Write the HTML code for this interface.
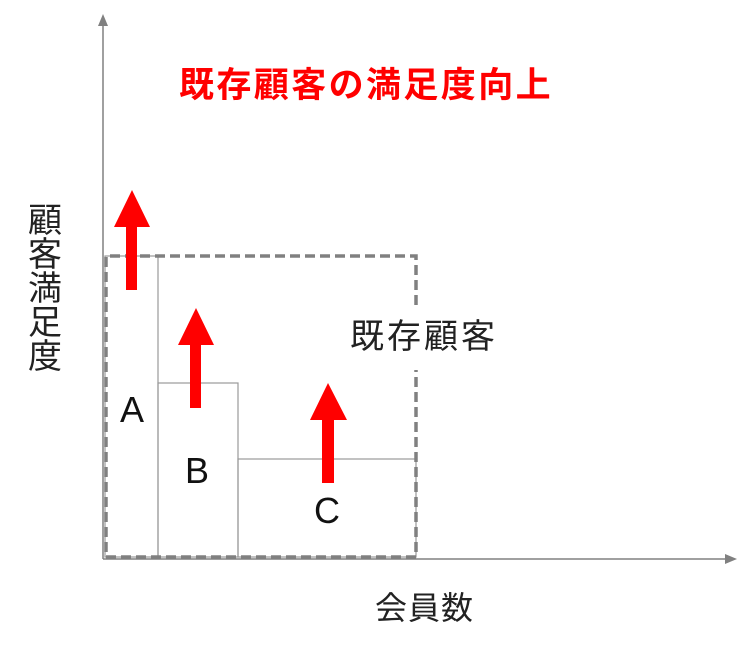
<!DOCTYPE html>
<html><head><meta charset="utf-8"><style>
html,body{margin:0;padding:0;background:#fff;}
svg{display:block;}
text{font-family:"Liberation Sans","Noto Sans CJK JP",sans-serif;}
</style></head><body>
<svg width="748" height="650" viewBox="0 0 748 650" xmlns="http://www.w3.org/2000/svg">
<line x1="103" y1="22" x2="103" y2="559" stroke="#808080" stroke-width="1.5"/>
<polygon points="103,14 98,26 108,26" fill="#808080"/>
<line x1="103" y1="559" x2="728" y2="559" stroke="#808080" stroke-width="1.5"/>
<polygon points="737,559 725,554 725,564" fill="#808080"/>
<rect x="105" y="256" width="53" height="301" fill="none" stroke="#999" stroke-width="1.2"/>
<rect x="158" y="383" width="80" height="174" fill="none" stroke="#999" stroke-width="1.2"/>
<rect x="238" y="459" width="178" height="98" fill="none" stroke="#999" stroke-width="1.2"/>
<path d="M416,305 L416,256 L106,256 L106,557 L416,557 L416,370" fill="none" stroke="#808080" stroke-width="3.5" stroke-dasharray="10,5"/>
<polygon points="132,190 150,227 137,227 137,290 126,290 126,227 114,227" fill="#ff0000"/>
<polygon points="196,308 214,345 201,345 201,408 190,408 190,345 178,345" fill="#ff0000"/>
<polygon points="328,383 347,420 334,420 334,483 322,483 322,420 310,420" fill="#ff0000"/>
<text x="179" y="97" font-size="35" font-weight="bold" fill="#ff0000" letter-spacing="2.4">既存顧客の満足度向上</text>
<text x="350" y="348" font-size="34" fill="#222" letter-spacing="3">既存顧客</text>
<text x="375" y="619" font-size="32" fill="#222" letter-spacing="1">会員数</text>
<g font-size="34" fill="#222">
<text x="28" y="232">顧</text>
<text x="28" y="266">客</text>
<text x="28" y="300">満</text>
<text x="28" y="334">足</text>
<text x="28" y="368">度</text>
</g>
<text x="132" y="422" font-size="36" fill="#111" text-anchor="middle">A</text>
<text x="197" y="483" font-size="36" fill="#111" text-anchor="middle">B</text>
<text x="327" y="523" font-size="36" fill="#111" text-anchor="middle">C</text>
</svg>
</body></html>
